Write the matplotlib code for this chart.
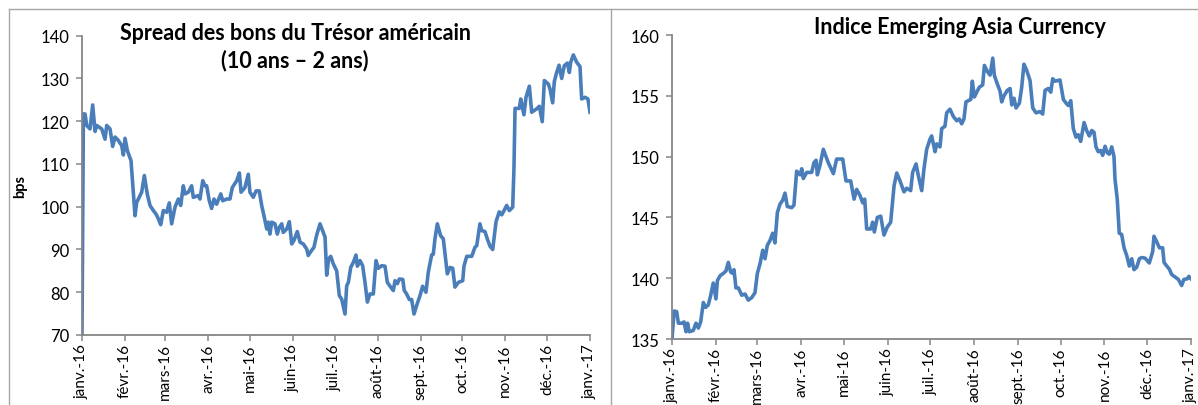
import matplotlib
matplotlib.use("Agg")
import matplotlib.pyplot as plt
from matplotlib.lines import Line2D
import pandas as pd

plt.rcParams["font.family"] = ["Lato", "DejaVu Sans"]

# jours depuis le 1er janvier 2016 et valeurs
spread_days = [
    0, 1, 2.2, 3.4, 5.8, 7.7, 9.4, 10.6, 14.2, 16.6, 17.8, 20.2, 22.1, 23.8, 26.2, 28.6, 29.8, 31, 32.7, 35.3,
    38.2, 39.4, 41.8, 43, 44.9, 47, 49, 51.4, 53.3, 55, 56.7, 58.6, 61, 62.9, 64.6, 67, 69.4, 71.1, 73, 74.2,
    76.6, 79, 80.2, 83.8, 85, 87, 88.6, 89.8, 91.7, 93.4, 95.1, 97, 100, 101.4, 104.2, 106.6, 108.3, 111.5, 113.4, 114.6,
    117.4, 119.8, 121, 123.4, 125.4, 127.7, 129.5, 131.1, 133.1, 134.2, 135.4, 136.7, 139, 140.7, 142.2, 143.9, 145, 147.5, 149.4, 151.1,
    152.7, 155.1, 157.1, 159.4, 161.9, 163, 164.8, 167.1, 169.1, 171.5, 173.4, 175.1, 176.3, 177.7, 179.2, 181.1, 183.5, 185.4, 187.1, 189.5,
    190.7, 191.9, 193.6, 195.5, 197.4, 198.4, 200.3, 202.2, 203.9, 205.6, 207.5, 209.9, 211.8, 213.5, 215.9, 218.3, 220, 222.4, 224.3, 225.5,
    227.2, 228.6, 231.1, 232.2, 233.9, 235.8, 237.5, 239.2, 241.1, 243.5, 245.4, 247.8, 249.5, 251.9, 253.1, 254.3, 256, 258.4, 260.3, 263.2,
    265.2, 267.1, 268.7, 271.1, 274.3, 275.2, 277.2, 280.8, 283.1, 284.4, 286.7, 288, 290.3, 292, 293.9, 295.9, 298.3, 300.6, 302.4, 304,
    306, 307.9, 310.3, 311.2, 312, 315.1, 316.1, 318.4, 319.9, 322.3, 324, 327.6, 329.5, 331.6, 333.1, 336, 337.2, 339.1, 340.3, 342,
    343.7, 345.6, 347.5, 349.7, 351.1, 352.1, 354, 356.4, 358.8, 360, 362.4, 364.5, 366,
]
spread_vals = [
    70, 121.7, 121.7, 119, 118.2, 123.8, 117.6, 119, 118.2, 115.8, 119, 118.2, 114.1, 116.3, 115.5, 114.3, 112.1, 116, 113.1, 110.8,
    97.9, 101, 102.6, 103.4, 107.3, 103, 100.3, 99.1, 98.3, 97.2, 95.8, 99.1, 98.7, 100.9, 96, 99.9, 101.8, 100.3, 104.9, 103,
    103.4, 104.9, 102.2, 102.6, 101.8, 106.1, 104.9, 104.9, 101.4, 99.6, 101.8, 100.6, 103, 101.4, 101.8, 101.8, 104.5, 106.1, 107.9, 103.4,
    104.5, 107.6, 103.4, 102.2, 103.7, 103.7, 100.2, 97.9, 94.8, 96.4, 93.6, 96.4, 96, 93.6, 95.2, 96, 94, 94.8, 96.5, 91.3,
    92.1, 94.2, 91.7, 91.3, 90.1, 88.6, 89.5, 90.5, 93.4, 96, 94.4, 92.9, 84.0, 87.8, 88.4, 86.6, 85.0, 79.2, 78.4, 74.9,
    81.5, 82.3, 85.8, 87, 88.7, 86.1, 87.4, 86.2, 82.3, 77.7, 79.6, 79.6, 87.4, 85.6, 86.2, 86.1, 82.3, 81.2, 80.4, 82.7,
    82, 83.1, 83, 80.4, 79.6, 78.3, 78.3, 74.9, 76.9, 79.2, 81.4, 80, 84.7, 88.7, 88.9, 92.5, 96, 93.2, 92.5, 84.3,
    85.8, 85.6, 81.2, 82.3, 82.7, 86.1, 88.4, 88.4, 90.5, 90.9, 96, 94.4, 94.2, 92.5, 90.8, 90, 96.5, 98.8, 98.1, 99.1,
    100.3, 99.1, 99.9, 108.8, 123, 123, 125.2, 121.5, 125.6, 128.2, 122.1, 122.9, 123.5, 119.9, 129.5, 128.7, 127.5, 124.3, 129.3, 131.4,
    133.1, 130, 133, 133.6, 131.4, 133.8, 135.5, 133.8, 132.8, 125.2, 125.6, 125.2, 122.1,
]

asia_days = [
    0, 1.5, 3.3, 4.5, 6.8, 8.5, 9.9, 11, 12.2, 15, 16.9, 18.6, 20.2, 22.1, 23.7, 25.6, 27.3, 29.1, 31, 32,
    33.9, 36.2, 38.1, 39.7, 41.4, 42.8, 43.7, 45.1, 46.8, 49.2, 51.5, 53.8, 56.2, 58.5, 60.2, 62.1, 64, 65.6, 67.2, 69.1,
    71, 72.6, 74.3, 76.2, 78, 79.7, 81.3, 84.4, 86, 87.9, 90.3, 91.5, 92.6, 95, 98.5, 100.1, 101.6, 102.5, 104.4, 106.7,
    110.2, 113.8, 116.1, 120.4, 122.7, 126, 128.4, 130.2, 132.6, 134.5, 135.9, 137.3, 140.1, 141.5, 142.7, 144.8, 147.2, 149.5, 151.8, 154.2,
    156.6, 158.5, 160.8, 163.6, 165.5, 168.3, 169.7, 172.1, 173.7, 176.1, 177.7, 179.6, 182, 183.1, 185.5, 186.7, 189, 190.2, 192.5, 193.7,
    196, 198.4, 200.8, 202.6, 204.3, 205.9, 207.3, 209, 210.7, 211.8, 213.2, 214.9, 216.7, 219.1, 220.3, 222.4, 224.3, 226.2, 227.3, 229,
    231.3, 232.5, 234.1, 236.5, 238.4, 239.6, 241.2, 242.6, 245, 246.6, 248.2, 250.1, 252.5, 254.4, 256.7, 259.5, 261.4, 263.1, 265.4, 267.1,
    268.5, 270.1, 273.6, 276, 277.9, 279.5, 281.2, 283, 284.9, 286.5, 288.2, 290.6, 292.4, 294.3, 296, 297.6, 299, 300.6, 302.3, 303.7,
    305.4, 307, 308.4, 310.1, 311.7, 312.4, 314, 315.4, 317.1, 318.8, 320.7, 322.5, 324.2, 325.8, 327.7, 329.6, 331.2, 333.6, 336.6, 339,
    339.9, 341.8, 343.7, 346, 347, 348.9, 350.7, 352.4, 354.7, 357.1, 359.4, 361, 363.4, 364.5, 366,
]
asia_vals = [
    135, 137.3, 137.25, 136.3, 136.3, 136.4, 135.6, 136.3, 135.6, 135.7, 136.3, 135.9, 136.4, 138, 137.6, 137.8, 138.6, 139.6, 138.3, 139.8,
    140.2, 140.4, 140.6, 141.3, 140.5, 140.4, 140.7, 139.2, 139.2, 138.6, 138.7, 138.2, 138.4, 138.8, 140.4, 141.2, 142.3, 141.6, 142.7, 143.1,
    143.7, 142.9, 145.4, 146.1, 146.4, 147, 145.9, 145.8, 146, 148.8, 148.5, 149, 148.2, 148.7, 148.7, 149.5, 149.7, 148.5, 149.3, 150.6,
    149.5, 148.6, 149.8, 149.8, 148, 148, 146.5, 147.3, 146.8, 146.2, 146.5, 144.05, 144.05, 144.6, 143.8, 145, 145.1, 143.55, 144.2, 144.6,
    147.6, 148.65, 148, 147.1, 147.4, 147.2, 148.7, 149.4, 148.45, 147.2, 149, 150.6, 151.45, 151.7, 150.4, 151.05, 150.8, 152.3, 152.5, 153.6,
    153.9, 153.3, 152.95, 153.1, 152.7, 153.1, 154.5, 154.6, 154.7, 156.2, 154.9, 155.3, 155.7, 155.9, 157.5, 157, 156.7, 158.1, 156.7, 156.1,
    155.4, 154.5, 155, 155.45, 155.6, 154.25, 154.8, 154, 154.4, 155.7, 157.6, 157.1, 156.25, 154, 153.6, 153.7, 153.5, 155.45, 155.6, 155.3,
    156.4, 156.2, 156.3, 154.7, 154.4, 154.2, 154.6, 152.3, 151.6, 151.8, 151.25, 152.8, 152.15, 151.7, 152.15, 152, 150.8, 150.4, 150.5, 150.1,
    150.85, 150.3, 150.2, 150.8, 150, 148.15, 146.5, 143.7, 143.6, 142.5, 141.85, 141, 141.6, 140.7, 140.9, 141.6, 141.7, 141.65, 141.25, 142.2,
    143.45, 143, 142.5, 142.5, 141.3, 141, 140.75, 140.3, 140.1, 139.9, 139.4, 139.9, 139.95, 140.15, 139.95,
]

month_labels = ["janv.-16", "févr.-16", "mars-16", "avr.-16", "mai-16", "juin-16", "juil.-16",
                "août-16", "sept.-16", "oct.-16", "nov.-16", "déc.-16", "janv.-17"]

LINE_COLOR = "#4a7ebb"
AXIS_COLOR = "#868686"
W, H = 1198, 406

start = pd.Timestamp("2016-01-01")
month_ticks = pd.date_range("2016-01-01", "2017-01-01", freq="MS")


def to_dates(days):
    return start + pd.to_timedelta(days, unit="D")


def px_box(x0, y0, x1, y1):
    # pixel box (top-left origin) -> figure fraction rect
    return [x0 / W, 1 - y1 / H, (x1 - x0) / W, (y1 - y0) / H]


def style_axes(ax, ylim, yticks):
    ax.set_xlim(start, pd.Timestamp("2017-01-01"))
    ax.set_ylim(*ylim)
    ax.set_yticks(yticks)
    ax.set_xticks(month_ticks)
    ax.set_xticklabels(month_labels, rotation=90, fontsize=11)
    for s in ("top", "right"):
        ax.spines[s].set_visible(False)
    for s in ("left", "bottom"):
        ax.spines[s].set_color(AXIS_COLOR)
        ax.spines[s].set_linewidth(1.3)
    ax.tick_params(axis="both", direction="out", length=4, width=1.1, color=AXIS_COLOR)
    ax.tick_params(axis="x", pad=2, labelsize=11)
    ax.tick_params(axis="y", pad=5, labelsize=12)


fig = plt.figure(figsize=(W / 100, H / 100), dpi=100)

ax1 = fig.add_axes(px_box(82, 36.7, 590, 336))
ax1.plot(to_dates(spread_days), spread_vals, color=LINE_COLOR, lw=2.6, solid_joinstyle="round")
style_axes(ax1, (70, 140), range(70, 141, 10))
ax1.set_ylabel("bps", fontsize=10.5, fontweight="bold", labelpad=10)

ax2 = fig.add_axes(px_box(672, 36, 1191, 340))
ax2.plot(to_dates(asia_days), asia_vals, color=LINE_COLOR, lw=2.6, solid_joinstyle="round")
style_axes(ax2, (135, 160), range(135, 161, 5))

fig.text(295 / W, 1 - 47 / H, "Spread des bons du Trésor américain\n(10 ans – 2 ans)",
         ha="center", va="center", fontsize=15.5, fontweight="bold", linespacing=1.3)
fig.text(960 / W, 1 - 28 / H, "Indice Emerging Asia Currency",
         ha="center", va="center", fontsize=15.5, fontweight="bold")

# cadres des deux panneaux
border = dict(color="#a6a6a6", lw=1.0, transform=fig.transFigure)
fig.add_artist(Line2D([9 / W, 1], [1 - 10 / H, 1 - 10 / H], **border))
fig.add_artist(Line2D([9 / W, 9 / W], [0, 1 - 10 / H], **border))
fig.add_artist(Line2D([611 / W, 611 / W], [0, 1 - 10 / H], **border))

fig.savefig("out.png", dpi=100)
